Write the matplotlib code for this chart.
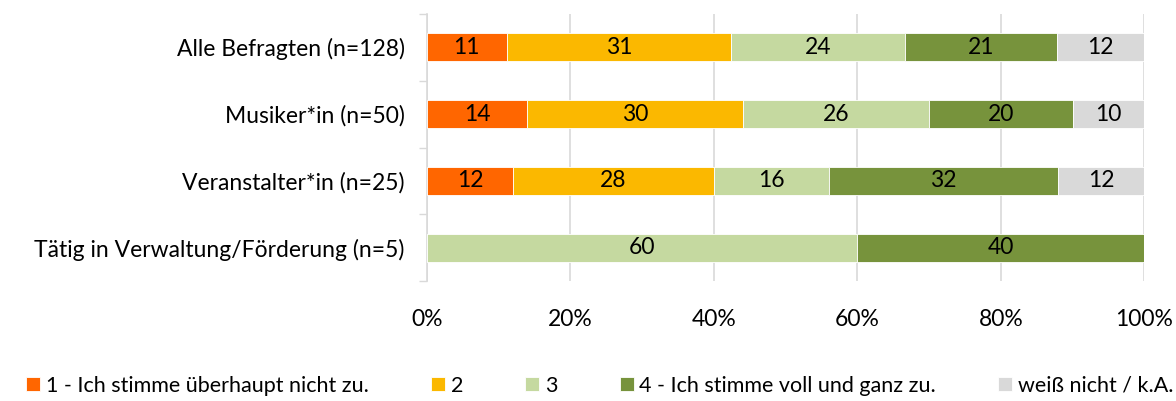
import numpy as np
import matplotlib
matplotlib.use("Agg")
import matplotlib.pyplot as plt
from matplotlib.ticker import FixedLocator

plt.rcParams['font.family'] = ['Lato', 'DejaVu Sans']

groups = ['Alle Befragten (n=128)', 'Musiker*in (n=50)', 'Veranstalter*in (n=25)',
          'Tätig in Verwaltung/Förderung (n=5)']
answers = ['1 - Ich stimme überhaupt nicht zu.', '2', '3',
           '4 - Ich stimme voll und ganz zu.', 'weiß nicht / k.A.']
values = [
    [11, 14, 12, 0],
    [31, 30, 28, 0],
    [24, 26, 16, 60],
    [21, 20, 32, 40],
    [12, 10, 12, 0],
]
colors = ['#FF6600', '#FBB800', '#C5D9A0', '#77933C', '#D9D9D9']

fig = plt.figure(figsize=(11.76, 4.01), dpi=100)
ax = fig.add_axes([0.363, 0.299, 0.610, 0.666])

data = np.array(values, dtype=float)
share = data / data.sum(axis=0) * 100  # 100% gestapelt

y = np.arange(len(groups))
left = np.zeros(len(groups))
for vals, pct, col, name in zip(data, share, colors, answers):
    ax.barh(y, pct, left=left, height=0.42, color=col, label=name,
            edgecolor='white', linewidth=0.6, zorder=3)
    for yi, v, p, l in zip(y, vals, pct, left):
        if v > 0:
            ax.text(l + p / 2, yi, f'{v:.0f}', ha='center', va='center',
                    fontsize=16.5, color='black', zorder=4)
    left += pct

ax.set_xlim(0, 100)
ax.set_ylim(len(groups) - 0.5, -0.5)
ax.set_xticks(np.arange(0, 101, 20))
ax.set_xticklabels([f'{t}%' for t in range(0, 101, 20)], fontsize=16.5)
ax.set_yticks(y)
ax.set_yticklabels(groups, fontsize=16.5)
ax.yaxis.set_minor_locator(FixedLocator(np.arange(-0.5, len(groups), 1)))
ax.tick_params(axis='y', which='major', length=0, pad=16)
ax.tick_params(axis='y', which='minor', length=6, color='#D9D9D9', width=1)
ax.tick_params(axis='x', length=0, pad=20)
ax.grid(axis='x', color='#D9D9D9', linewidth=1.2, zorder=0)
for s in ['top', 'right', 'bottom']:
    ax.spines[s].set_visible(False)
ax.spines['left'].set_color('#D9D9D9')
ax.spines['left'].set_linewidth(1.2)

fig.legend(loc='lower center', bbox_to_anchor=(0.51, -0.035), ncol=5, frameon=False,
           fontsize=15.5, handlelength=0.65, handleheight=0.65, handletextpad=0.25,
           columnspacing=2.9)

fig.savefig('out.png', dpi=100)
